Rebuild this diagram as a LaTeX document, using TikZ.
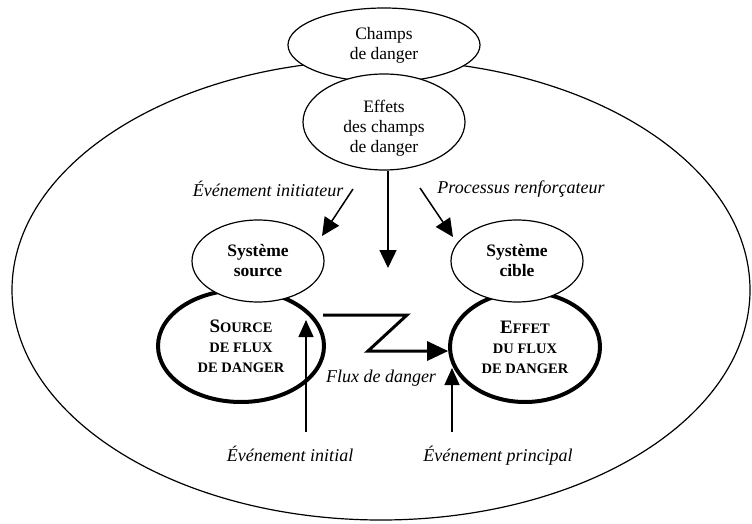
\documentclass[tikz,border=0pt]{standalone}
\usepackage{fontspec}
\setmainfont{Liberation Serif}
\usepackage{tikz}
\usetikzlibrary{arrows.meta,shapes,positioning}
\tikzset{
    zone/.style={draw, ellipse, line width=1.2pt, inner sep=0pt},
    bulle/.style={draw, ellipse, fill=white, line width=1.2pt, inner sep=0pt, align=center},
    foyer/.style={draw, ellipse, fill=white, line width=4pt, inner sep=0pt, align=center},
    fleche/.style={-{Triangle[length=18pt, width=17pt]}, line width=1.5pt},
    flux/.style={-{Triangle[length=21pt, width=19pt]}, line width=3pt},
    evenement/.style={-{Triangle[length=17pt, width=15pt]}, line width=1.2pt},
    etiquette/.style={font=\moyen\itshape, inner sep=1pt}
}
\newcommand{\grand}{\fontsize{17.5}{20}\selectfont}
\newcommand{\moyen}{\fontsize{18}{20}\selectfont}
\newcommand{\petit}{\fontsize{14.5}{17}\selectfont\bfseries}
\newcommand{\capini}[2]{{\fontsize{19}{17}\selectfont\bfseries #1}{\petit #2}}

\begin{document}
\begin{tikzpicture}[x=1pt, y=-1pt, font=\grand]
    \useasboundingbox (0,0) rectangle (752,524);

    % domaine et champs de danger
    \node[zone, minimum width=738pt, minimum height=460pt] (domaine) at (381,290) {};
    \node[bulle, minimum width=192pt, minimum height=74pt] (champs) at (384,45) {Champs\\de danger};
    \node[bulle, minimum width=162pt, minimum height=96pt,
          label={[font=\grand, align=center, yshift=-6pt]center:Effets\\des champs\\de danger}] (effets) at (384,122) {};

    % source et cible
    \node[foyer, minimum width=166pt, minimum height=112pt] (source) at (241,346)
        {\capini{S}{OURCE}\\{\petit DE FLUX}\\{\petit DE DANGER}};
    \node[foyer, minimum width=150pt, minimum height=110pt] (effet) at (525,347)
        {\capini{E}{FFET}\\{\petit DU FLUX}\\{\petit DE DANGER}};
    \node[bulle, minimum width=132pt, minimum height=82pt, font=\grand\bfseries] (syssource) at (258,261) {Système\\source};
    \node[bulle, minimum width=132pt, minimum height=82pt, font=\grand\bfseries] (syscible) at (517,261) {Système\\cible};

    % fleches des effets
    \coordinate (initdep) at (353,189);
    \coordinate (initfin) at (322,236);
    \coordinate (milfin) at (388,268);
    \coordinate (renfdep) at (420,188);
    \coordinate (renffin) at (453,237);
    \draw[fleche] (initdep) -- (initfin);
    \draw[fleche] (effets.south -| milfin) -- (milfin);
    \draw[fleche] (renfdep) -- (renffin);
    \node[etiquette] (lblinitiateur) at (268,189) {Événement initiateur};
    \node[etiquette] (lblrenforcateur) at (521,189) {Processus renforçateur};

    % flux de danger
    \coordinate (fluxdep) at (323,315);
    \coordinate (fluxhaut) at (407,315);
    \coordinate (fluxbas) at (368,351);
    \draw[flux] (fluxdep) -- (fluxhaut) -- (fluxbas) -- (effet.183);
    \node[etiquette] (lblflux) at (381,378) {Flux de danger};

    % evenements
    \coordinate (basinit) at (306,432);
    \coordinate (hautinit) at (306,320);
    \coordinate (basprinc) at (452,432);
    \coordinate (hautprinc) at (452,368);
    \draw[evenement] (basinit) -- (hautinit);
    \draw[evenement] (basprinc) -- (hautprinc);
    \node[etiquette, below=13pt of basinit, xshift=-16pt] (lblinitial) {Événement initial};
    \node[etiquette, below=13pt of basprinc, xshift=46pt] (lblprincipal) {Événement principal};
\end{tikzpicture}
\end{document}
